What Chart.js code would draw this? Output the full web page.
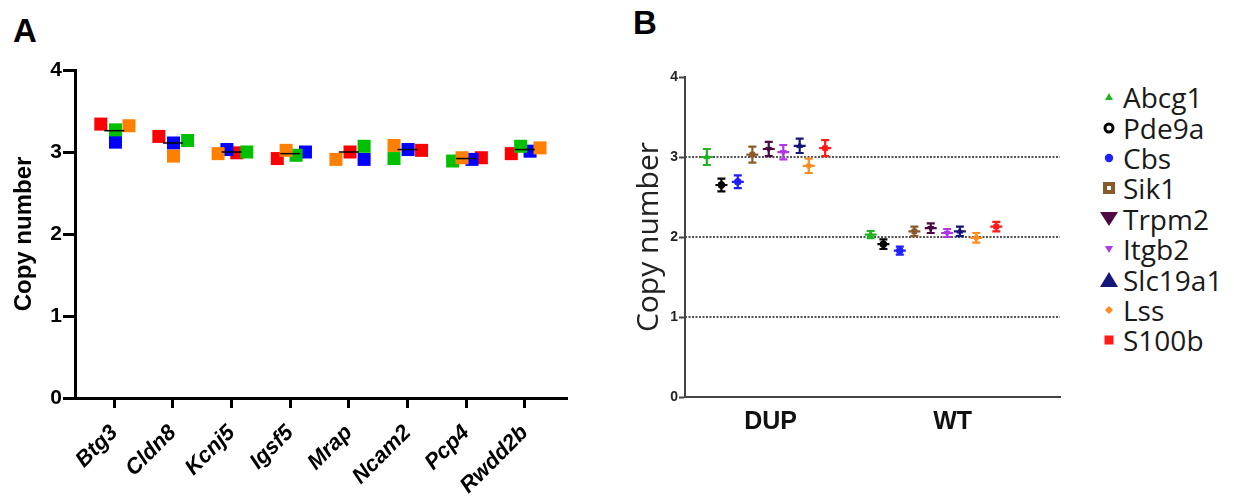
<!DOCTYPE html>
<html>
<head>
<meta charset="utf-8">
<script src="https://cdn.jsdelivr.net/npm/chart.js@4.4.1/dist/chart.umd.min.js"></script>
<style>
  body { margin: 0; background: #fff; }
  #wrap { position: relative; width: 1234px; height: 497px; overflow: hidden; background: #fff; }
  canvas { position: absolute; top: 0; }
  #chartA { left: 0; }
  #chartB { left: 600px; }
  .panel { position: absolute; font: bold 33px "Liberation Sans", Arial, sans-serif; color: #000; line-height: 1; }
  #legendB { position: absolute; left: 1096px; top: 82px; font: 28px "Open Sans", sans-serif; color: #1a1a1a; }
  .row { display: flex; align-items: center; height: 30.4px; white-space: nowrap; }
  .row svg { width: 26px; height: 20px; margin-right: 1px; flex: none; }
</style>
</head>
<body>
<div id="wrap">
  <div class="panel" style="left:13px;top:14px">A</div>
  <div class="panel" style="left:633px;top:6px">B</div>
  <canvas id="chartA" width="600" height="497"></canvas>
  <canvas id="chartB" width="480" height="497"></canvas>
  <div id="legendB"></div>
</div>
<script>
// ---- panel A: copy number per gene, 4 samples each ----
const genesA = ['Btg3', 'Cldn8', 'Kcnj5', 'Igsf5', 'Mrap', 'Ncam2', 'Pcp4', 'Rwdd2b'];
const redA    = [3.34, 3.19, 2.99, 2.92, 3.00, 3.02, 2.93, 2.98];
const greenA  = [3.27, 3.14, 3.00, 2.96, 3.07, 2.92, 2.89, 3.07];
const blueA   = [3.12, 3.11, 3.03, 3.00, 2.91, 3.03, 2.91, 3.01];
const orangeA = [3.32, 2.95, 2.98, 3.02, 2.91, 3.08, 2.93, 3.05];
const medianA = [3.26, 3.11, 3.00, 2.98, 3.00, 3.03, 2.92, 3.03];
// horizontal scatter of each sample inside its gene column
const redJit    = [-0.23, -0.24, 0.09, -0.22, 0.02, 0.24, 0.26, -0.23];
const greenJit  = [0.02, 0.25, 0.26, 0.10, 0.26, -0.23, -0.23, -0.07];
const blueJit   = [0.02, 0.01, -0.08, 0.26, 0.26, 0.01, 0.10, 0.09];
const orangeJit = [0.25, 0.01, -0.23, -0.07, -0.22, -0.23, -0.07, 0.26];
const yTicksA = [0, 1, 2, 3, 4];

// ---- panel B: mean +/- error per gene, DUP vs WT ----
const groupsB = ['DUP', 'WT'];
const genesB = ['Abcg1', 'Pde9a', 'Cbs', 'Sik1', 'Trpm2', 'Itgb2', 'Slc19a1', 'Lss', 'S100b'];
const dupMean = [3.00, 2.65, 2.69, 3.03, 3.10, 3.06, 3.14, 2.89, 3.11];
const dupErr  = [0.10, 0.08, 0.08, 0.10, 0.09, 0.09, 0.09, 0.09, 0.10];
const wtMean  = [2.03, 1.91, 1.83, 2.07, 2.11, 2.05, 2.07, 1.99, 2.13];
const wtErr   = [0.045, 0.06, 0.05, 0.06, 0.06, 0.05, 0.06, 0.06, 0.06];
const dupX = [-0.35, -0.27, -0.18, -0.10, -0.01, 0.07, 0.16, 0.21, 0.30];
const wtX  = [0.55, 0.62, 0.71, 0.79, 0.88, 0.97, 1.04, 1.13, 1.24];
const refLines = [1, 2, 3];

const colorsB = ['#22b322', '#000000', '#1f1fff', '#8b5a2b', '#4d0a40', '#b036e8', '#16167a', '#ff8c1e', '#ff1a1a'];
const stylesB = ['triangle', 'circle', 'circle', 'rect', 'triangle', 'triangle', 'triangle', 'rectRot', 'rect'];
const rotB    = [0, 0, 0, 0, 180, 180, 0, 0, 0];
const legendShapes = ['triSmall', 'ring', 'dot', 'hollowSquare', 'triDownBig', 'triDownSmall', 'triBig', 'diamond', 'square'];

Chart.defaults.font.family = "'Liberation Sans', Arial, sans-serif";
Chart.defaults.color = '#000';

function place(vals, jit) {
  return vals.map((v, i) => ({ x: i + jit[i], y: v }));
}

function sq(label, vals, jit, color) {
  return {
    label: label, data: place(vals, jit),
    pointStyle: 'rect', pointRadius: 9.2, pointHoverRadius: 9.2,
    backgroundColor: color, borderWidth: 0
  };
}

new Chart(document.getElementById('chartA'), {
  type: 'scatter',
  data: {
    datasets: [
      { label: 'median', data: medianA.map((v, i) => ({ x: i, y: v })),
        pointStyle: 'line', pointRadius: 10, borderColor: '#000', borderWidth: 1.5, backgroundColor: '#000' },
      sq('s4', orangeA, orangeJit, '#ff8000'),
      sq('s2', greenA, greenJit, '#00c000'),
      sq('s3', blueA, blueJit, '#0000ff'),
      sq('s1', redA, redJit, '#ff0000')
    ]
  },
  options: {
    responsive: false, animation: false, events: [],
    layout: { padding: { top: 70, right: 33, left: 0, bottom: 0 } },
    plugins: { legend: { display: false }, tooltip: { enabled: false } },
    scales: {
      x: {
        type: 'linear', min: -0.67, max: 7.72,
        afterBuildTicks: s => { s.ticks = genesA.map((g, i) => ({ value: i })); },
        afterFit: s => { s.height = 99; },
        ticks: {
          callback: v => genesA[v], autoSkip: false, maxRotation: 45, minRotation: 45,
          font: { size: 22, weight: 'bold', style: 'italic' }, color: '#000', padding: 12
        },
        grid: { drawOnChartArea: false, tickLength: 10, tickWidth: 3, tickColor: '#000' },
        border: { color: '#000', width: 3 }
      },
      y: {
        min: 0, max: 4,
        afterBuildTicks: s => { s.ticks = yTicksA.map(v => ({ value: v })); },
        afterFit: s => { s.width = 75; },
        ticks: { font: { size: 21, weight: 'bold' }, color: '#000', padding: 1 },
        grid: { drawOnChartArea: false, tickLength: 12, tickWidth: 3, tickColor: '#000' },
        border: { color: '#000', width: 3 },
        title: { display: true, text: 'Copy number', font: { size: 24, weight: 'bold' }, color: '#000', padding: { top: 10 } }
      }
    }
  }
});

const refLinePlugin = {
  id: 'refLines',
  beforeDatasetsDraw(chart) {
    const { ctx, chartArea, scales } = chart;
    ctx.save();
    ctx.strokeStyle = '#555';
    ctx.lineWidth = 2;
    ctx.setLineDash([2, 1.5]);
    refLines.forEach(v => {
      const py = scales.y.getPixelForValue(v);
      ctx.beginPath();
      ctx.moveTo(chartArea.left, py);
      ctx.lineTo(chartArea.right, py);
      ctx.stroke();
    });
    ctx.restore();
  }
};

const errorBarPlugin = {
  id: 'errorBars',
  beforeDatasetsDraw(chart) {
    const { ctx, scales: { x, y } } = chart;
    ctx.save();
    ctx.lineWidth = 2.2;
    chart.data.datasets.forEach(ds => {
      ctx.strokeStyle = ds.borderColor;
      ds.data.forEach(p => {
        const px = x.getPixelForValue(p.x);
        const top = y.getPixelForValue(p.y + p.err);
        const bot = y.getPixelForValue(p.y - p.err);
        const mid = y.getPixelForValue(p.y);
        ctx.beginPath();
        ctx.moveTo(px, top); ctx.lineTo(px, bot);
        ctx.moveTo(px - 4, top); ctx.lineTo(px + 4, top);
        ctx.moveTo(px - 4, bot); ctx.lineTo(px + 4, bot);
        ctx.moveTo(px - 6, mid); ctx.lineTo(px + 6, mid);
        ctx.stroke();
      });
    });
    ctx.restore();
  }
};

new Chart(document.getElementById('chartB'), {
  type: 'scatter',
  data: {
    datasets: genesB.map((g, i) => ({
      label: g,
      data: [
        { x: dupX[i], y: dupMean[i], err: dupErr[i] },
        { x: wtX[i], y: wtMean[i], err: wtErr[i] }
      ],
      pointStyle: stylesB[i], pointRotation: rotB[i], pointRadius: 3.4,
      backgroundColor: colorsB[i], borderColor: colorsB[i], borderWidth: 1
    }))
  },
  options: {
    responsive: false, animation: false, events: [],
    layout: { padding: { top: 77, right: 20, left: 0, bottom: 0 } },
    plugins: { legend: { display: false }, tooltip: { enabled: false } },
    scales: {
      x: {
        type: 'linear', min: -0.47, max: 1.59,
        afterBuildTicks: s => { s.ticks = groupsB.map((g, i) => ({ value: i })); },
        afterFit: s => { s.height = 100; },
        ticks: { callback: v => groupsB[v], autoSkip: false, maxRotation: 0,
                 font: { size: 25, weight: 'bold' }, color: '#111', padding: 2 },
        grid: { display: false },
        border: { color: '#444', width: 2 }
      },
      y: {
        min: 0, max: 4,
        afterBuildTicks: s => { s.ticks = yTicksA.map(v => ({ value: v })); },
        afterFit: s => { s.width = 85; },
        ticks: { font: { size: 14, weight: 'bold' }, color: '#222', padding: 1 },
        grid: { drawOnChartArea: false, tickLength: 6, tickWidth: 2, tickColor: '#444' },
        border: { color: '#444', width: 2 },
        title: { display: true, text: 'Copy number', font: { family: "'Open Sans', sans-serif", size: 30 },
                 color: '#222', padding: { top: 31 } }
      }
    }
  },
  plugins: [refLinePlugin, errorBarPlugin]
});

// legend markers for panel B
function marker(shape, c) {
  switch (shape) {
    case 'triSmall': return `<polygon points="12,6 16,13 8,13" fill="${c}"/>`;
    case 'ring': return `<circle cx="12" cy="10" r="4" fill="none" stroke="${c}" stroke-width="3"/>`;
    case 'dot': return `<circle cx="12" cy="10" r="4.2" fill="${c}"/>`;
    case 'hollowSquare': return `<rect x="6" y="4" width="12" height="12" fill="${c}"/><rect x="10" y="8" width="4" height="4" fill="#fff"/>`;
    case 'triDownBig': return `<polygon points="3,3 21,3 12,17" fill="${c}"/>`;
    case 'triDownSmall': return `<polygon points="8,7 16,7 12,14" fill="${c}"/>`;
    case 'triBig': return `<polygon points="12,2 21,17 3,17" fill="${c}"/>`;
    case 'diamond': return `<polygon points="12,6 16,10 12,14 8,10" fill="${c}"/>`;
    default: return `<rect x="7.5" y="5.5" width="9" height="9" fill="${c}"/>`;
  }
}
const legendEl = document.getElementById('legendB');
genesB.forEach((g, i) => {
  const row = document.createElement('div');
  row.className = 'row';
  row.innerHTML = `<svg viewBox="0 0 24 20">${marker(legendShapes[i], colorsB[i])}</svg><span>${g}</span>`;
  legendEl.appendChild(row);
});
</script>
</body>
</html>
